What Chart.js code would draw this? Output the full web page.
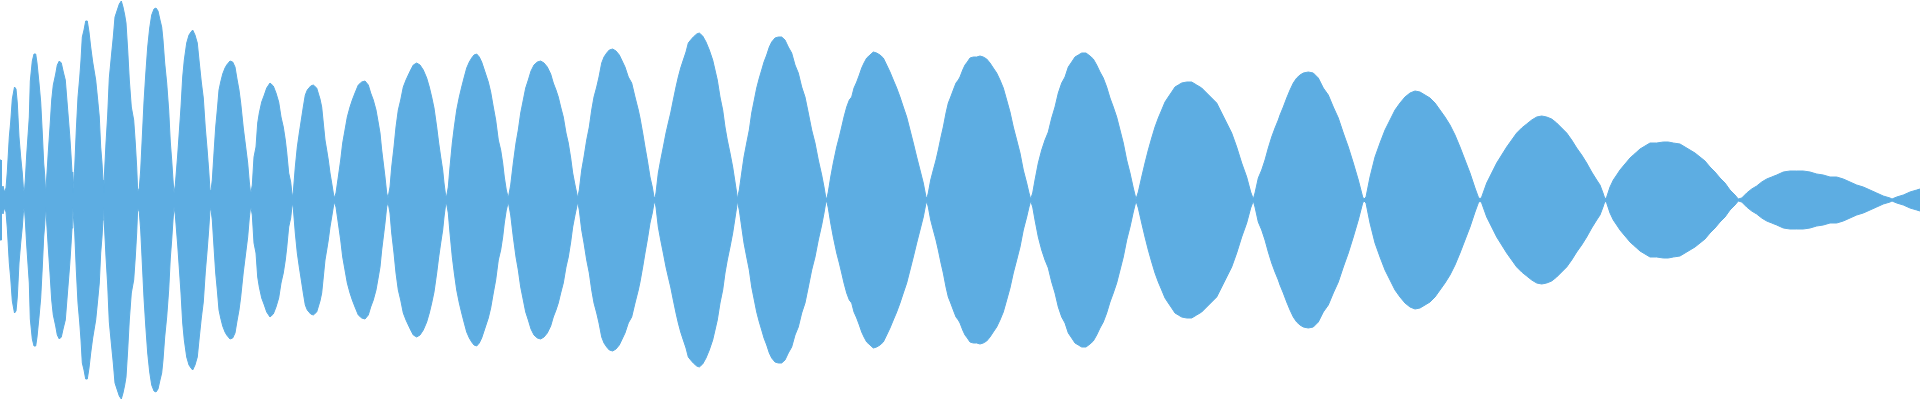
<!DOCTYPE html>
<html>
<head>
<meta charset="utf-8">
<title>Waveform</title>
<script src="https://cdn.jsdelivr.net/npm/chart.js@4.4.1/dist/chart.umd.min.js"></script>
<style>
  html, body { margin: 0; padding: 0; background: #ffffff; }
  #wrap { width: 1920px; height: 400px; position: relative; }
</style>
</head>
<body>
<div id="wrap"><canvas id="wave"></canvas></div>
<script>
// envelope of the waveform
// time (ms) and peak amplitude (the lower side is the mirror)
const times = [
  0, 1, 1.5, 3, 4.5, 6,
  7.3, 9.3, 10.7, 12.3, 14.5, 16, 17.3, 19, 20.7, 22.3, 23.3, 24.3,
  25.3, 26.7, 29.3, 30.3, 32.3, 34, 35.7, 37, 39, 40.7, 42.3, 43.7, 44.7, 45.7,
  47, 48.3, 50, 51.7, 53.3, 55.7, 57.3, 59.3, 61.3, 63.3, 65.3, 67.7, 69.7, 71, 72, 72.7,
  73.3, 74.7, 76.3, 78, 79.7, 81, 82.3, 84, 85.7, 87.3, 89, 90.7, 92.7, 95.7, 97.7, 99.3, 100.7, 102, 103, 103.7,
  104.3, 106, 107.7, 109.3, 111.7, 113.3, 115, 117.3, 119.3, 121.3, 123, 124.7, 126, 127.7, 129.3, 131.3, 133.7, 135.3, 136.7, 137.7,
  139.3, 140.7, 142.3, 144, 145.7, 147.7, 149.7, 151.7, 154, 156, 158, 160, 161.7, 163, 164.7, 166.7, 168.7, 170.3, 171.7, 173, 174,
  175.3, 177.7, 179.3, 181, 182.7, 184.3, 186.7, 189, 191, 192.7, 195, 197.3, 199.3, 201.3, 203.3, 205.3, 207, 208.7, 210, 210.7,
  212.3, 214, 215.7, 217.3, 219, 220.7, 222.7, 225, 226.7, 230, 232.7, 235, 237, 239, 240.7, 243.3, 245.7, 247.7, 249.3, 250.7,
  252.3, 254, 256, 257.7, 259.3, 261.7, 264.3, 266.7, 270, 273.3, 276, 278.7, 281, 283.3, 285.3, 286.7, 288.7, 290.7, 292.3,
  293.3, 295.3, 297.3, 299.3, 301.3, 303.3, 305.3, 307.3, 310.7, 313.3, 316.7, 320, 321.7, 323.3, 325, 326.7, 328.3, 330, 331.7, 333.3, 334.3,
  336, 338.3, 340.7, 342.7, 345, 347.3, 350, 352.3, 355, 358.3, 361.7, 365, 368.3, 370.7, 373.3, 376, 378.3, 380, 381.7, 383.3, 385, 386.7, 388,
  390, 391.7, 394, 396, 398.3, 400.7, 403.3, 406, 408.3, 410.7, 413.3, 416.7, 420, 423.3, 426.7, 429.3, 431.7, 434, 436.7, 438.7, 440.7, 442.7, 444, 445.3, 446.3,
  448.3, 450, 452.3, 454.3, 456.7, 459.3, 461.7, 464, 466.7, 469.3, 471.7, 474, 476.7, 479.3, 481.7, 485, 488.3, 490.7, 493.3, 495.7, 498.3, 500.7, 502.7, 504.3, 506.3, 508.3,
  510.7, 513.3, 516, 518.3, 520.7, 523.3, 525.7, 528.3, 531, 534, 537.3, 540.7, 544, 547.3, 550.7, 553.3, 556, 558.3, 560.7, 563.3, 566, 568.3, 570.7, 572.7, 575, 576.7, 577.7,
  579.3, 581.7, 584, 586.7, 589.3, 591.7, 594, 596.7, 599, 601.7, 604, 606.7, 609.3, 612.7, 616, 619.3, 621.7, 625, 628.3, 631.7, 635, 638.3, 640, 642.7, 645, 647.3, 650, 652.3, 654, 654.7,
  656, 658.3, 660.7, 663.3, 666, 668.3, 670.7, 673.3, 676, 678.3, 680.7, 683.3, 686, 688.3, 690.7, 693.3, 696.7, 699.3, 702.7, 706, 709.3, 712.7, 715, 717.3, 720, 722.7, 725, 727.3, 730, 732.7, 735, 736.7, 737.3,
  739.3, 741.7, 744, 746.7, 749.3, 751.7, 754.3, 756.7, 759.3, 761.7, 764, 766.7, 769.3, 771.7, 775, 778.3, 781.7, 785, 788.3, 791.7, 795, 798.3, 801.7, 805, 808.3, 811.7, 815, 818.3, 821.7, 824, 825.7, 826.7,
  828.3, 830.7, 833.3, 836.7, 839.3, 841.7, 844, 846.7, 849.3, 851.7, 854, 856.7, 859.3, 861.7, 864, 866.7, 870, 873.3, 876.7, 880, 883.3, 886.7, 890, 893.3, 896.7, 900, 903.3, 906.7, 910, 913.3, 916.7, 920, 923.3, 926, 926.7,
  928.3, 930.7, 933.3, 936, 938.3, 941, 943.3, 946, 948.3, 950.7, 953.3, 956, 958.3, 960, 962.7, 965, 967.3, 970, 973.3, 976.7, 980, 983.3, 986.7, 990, 993.3, 996.7, 1000, 1003.3, 1006.7, 1010, 1013.3, 1016.7, 1020, 1023.3, 1026.7, 1029, 1030.7,
  1032.7, 1035, 1038.3, 1041.7, 1045, 1048.3, 1051.7, 1055, 1058.3, 1061.7, 1065, 1068.3, 1071.7, 1075, 1078.3, 1081.7, 1086, 1090, 1093.3, 1096.7, 1100, 1103.3, 1106.7, 1110, 1113.3, 1116.7, 1120, 1123.3, 1126.7, 1130, 1133.3, 1136,
  1138.3, 1141.7, 1145, 1148.3, 1151.7, 1155, 1158.3, 1161.7, 1165, 1168.3, 1171.7, 1175, 1178.3, 1181.7, 1186.7, 1191.7, 1196.7, 1201.7, 1206.7, 1211.7, 1216.7, 1221.7, 1226.7, 1231.7, 1236.7, 1241.7, 1246.7, 1250.7, 1253.3,
  1255, 1258.3, 1261.7, 1265, 1268.3, 1271.7, 1275, 1278.3, 1280, 1283.3, 1286.7, 1290, 1293.3, 1296.7, 1300, 1303.3, 1308.3, 1313.3, 1318.3, 1323.3, 1328.3, 1333.3, 1338.3, 1343.3, 1348.3, 1353.3, 1358.3, 1362.7, 1364,
  1366, 1370, 1375, 1380, 1385, 1390, 1395, 1400, 1405, 1410, 1415, 1420, 1425, 1430, 1435, 1440, 1445, 1450, 1455, 1460, 1465, 1470, 1475, 1478.3, 1480,
  1481.7, 1486.7, 1491.7, 1496.7, 1501.7, 1506.7, 1511.7, 1516.7, 1521.7, 1526.7, 1531.7, 1536.7, 1541.7, 1546.7, 1551.7, 1556.7, 1561.7, 1566.7, 1571.7, 1576.7, 1581.7, 1586.7, 1591.7, 1596.7, 1600, 1603, 1605,
  1606.7, 1610, 1613.3, 1616.7, 1620, 1623.3, 1626.7, 1630, 1633.3, 1636.7, 1640, 1645, 1650, 1656.7, 1663.3, 1668.3, 1673.3, 1680, 1685, 1690, 1695, 1700, 1705, 1710, 1715, 1720, 1725, 1730, 1735, 1738.3,
  1741.7, 1746.7, 1751.7, 1756.7, 1761.7, 1766.7, 1771.7, 1776.7, 1783.3, 1790, 1796.7, 1803.3, 1810, 1816.7, 1823.3, 1830, 1836.7, 1843.3, 1850, 1856.7, 1863.3, 1870, 1876.7, 1883.3, 1890, 1892,
  1896.7, 1903.3, 1910, 1916.7, 1920
];
const peaks = [
  40, 40, 10, 14, 8, 12,
  28, 63, 78, 101, 113, 111, 97, 63, 43, 27, 13, 7,
  20, 45, 83, 119, 139, 146, 146, 137, 117, 98, 67, 37, 25, 7,
  27, 48, 73, 100, 115, 126, 135, 139, 137, 128, 120, 90, 65, 45, 28, 7,
  15, 32, 70, 103, 122, 140, 163, 170, 179, 179, 168, 153, 138, 120, 100, 83, 53, 37, 20, 7,
  23, 57, 85, 122, 147, 163, 183, 190, 196, 199, 193, 185, 177, 150, 120, 93, 80, 57, 33, 8,
  12, 30, 63, 98, 125, 153, 172, 185, 191, 192, 189, 180, 173, 160, 137, 117, 90, 58, 40, 20, 7,
  15, 45, 68, 93, 123, 140, 157, 165, 168, 170, 165, 157, 137, 118, 102, 72, 52, 30, 10, 7,
  20, 47, 73, 90, 110, 118, 126, 132, 135, 139, 138, 133, 121, 110, 97, 72, 53, 37, 18, 6,
  15, 43, 53, 77, 87, 98, 105, 112, 117, 114, 107, 98, 83, 73, 60, 48, 27, 18, 3,
  8, 33, 53, 67, 80, 93, 105, 110, 114, 115, 112, 101, 93, 77, 60, 50, 40, 27, 17, 7, 2,
  7, 23, 40, 57, 70, 83, 93, 100, 107, 115, 118, 119, 115, 107, 100, 90, 77, 67, 50, 37, 23, 7, 2,
  13, 33, 53, 73, 90, 100, 113, 120, 125, 130, 135, 137, 135, 130, 122, 113, 103, 92, 73, 57, 43, 30, 17, 7, 2,
  13, 33, 57, 73, 90, 103, 113, 122, 132, 138, 142, 145, 146, 143, 138, 128, 118, 108, 93, 80, 60, 50, 37, 23, 10, 2,
  15, 37, 57, 70, 87, 100, 112, 120, 129, 135, 138, 139, 137, 133, 126, 117, 110, 103, 93, 83, 67, 57, 42, 27, 15, 7, 2,
  10, 30, 43, 60, 73, 90, 103, 113, 123, 137, 143, 147, 150, 151, 149, 145, 140, 133, 123, 117, 103, 90, 82, 67, 53, 40, 23, 13, 3, 1,
  7, 27, 40, 53, 67, 77, 87, 100, 113, 123, 132, 140, 148, 157, 160, 163, 166, 167, 164, 158, 150, 140, 130, 120, 103, 90, 73, 60, 47, 33, 18, 7, 1,
  10, 27, 43, 57, 70, 87, 100, 112, 122, 130, 138, 145, 153, 158, 162, 163, 163, 160, 153, 147, 135, 127, 113, 103, 87, 70, 57, 40, 25, 13, 3, 1,
  8, 23, 37, 53, 63, 73, 83, 93, 100, 103, 112, 118, 125, 132, 137, 142, 145, 148, 147, 145, 142, 135, 128, 120, 112, 103, 93, 83, 70, 57, 43, 30, 17, 3, 1,
  7, 20, 30, 40, 50, 63, 73, 87, 97, 103, 110, 117, 120, 123, 130, 135, 138, 142, 143, 143, 144, 143, 141, 137, 132, 127, 120, 112, 100, 88, 73, 60, 47, 30, 17, 7, 1,
  7, 20, 37, 50, 60, 68, 82, 93, 107, 117, 123, 133, 138, 143, 145, 147, 147, 144, 141, 135, 128, 122, 113, 102, 93, 83, 70, 57, 40, 27, 12, 1,
  8, 23, 37, 50, 62, 73, 82, 90, 98, 103, 108, 113, 115, 117, 118, 118, 115, 112, 107, 102, 97, 87, 77, 67, 53, 37, 23, 8, 1,
  7, 22, 30, 40, 52, 63, 72, 80, 85, 93, 102, 110, 117, 122, 125, 127, 128, 127, 122, 112, 105, 93, 82, 67, 53, 37, 20, 3, 1,
  3, 23, 43, 57, 70, 80, 90, 97, 103, 107, 109, 108, 105, 102, 97, 90, 83, 75, 65, 53, 40, 27, 12, 3, 1,
  3, 17, 27, 37, 45, 53, 60, 67, 72, 76, 80, 83, 84, 83, 81, 77, 72, 67, 60, 52, 45, 37, 28, 20, 15, 7, 1,
  3, 13, 20, 25, 30, 34, 38, 42, 45, 48, 51, 54, 57, 57, 58, 58, 57, 56, 53, 50, 47, 43, 39, 33, 28, 22, 17, 10, 5, 1,
  2, 7, 11, 14, 18, 21, 23, 25, 28, 29, 29, 29, 28, 26, 25, 23, 23, 21, 18, 15, 13, 10, 7, 4, 2, 1,
  3, 5, 8, 10, 11
];
// axis range of the plot
const tMin = 0, tMax = 1920;
const ampMin = -200, ampMax = 200;

const waveColor = "#5DADE2";

const upper = times.map((t, i) => ({ x: t, y: peaks[i] }));
const lower = times.map((t, i) => ({ x: t, y: -peaks[i] }));

const canvas = document.getElementById("wave");
const waveChart = new Chart(canvas, {
    type: "line",
    data: {
        datasets: [{
            data: upper,
            borderColor: waveColor,
            backgroundColor: waveColor,
            borderWidth: 1,
            pointRadius: 0,
            tension: 0,
            fill: "+1"
        }, {
            data: lower,
            borderColor: waveColor,
            backgroundColor: waveColor,
            borderWidth: 1,
            pointRadius: 0,
            tension: 0,
            fill: false
        }]
    },
    options: {
        responsive: true,
        maintainAspectRatio: false,
        animation: false,
        layout: { padding: 0 },
        plugins: {
            legend: { display: false },
            tooltip: { enabled: false }
        },
        scales: {
            x: { type: "linear", min: tMin, max: tMax, display: false },
            y: { min: ampMin, max: ampMax, display: false }
        }
    }
});
</script>
</body>
</html>
